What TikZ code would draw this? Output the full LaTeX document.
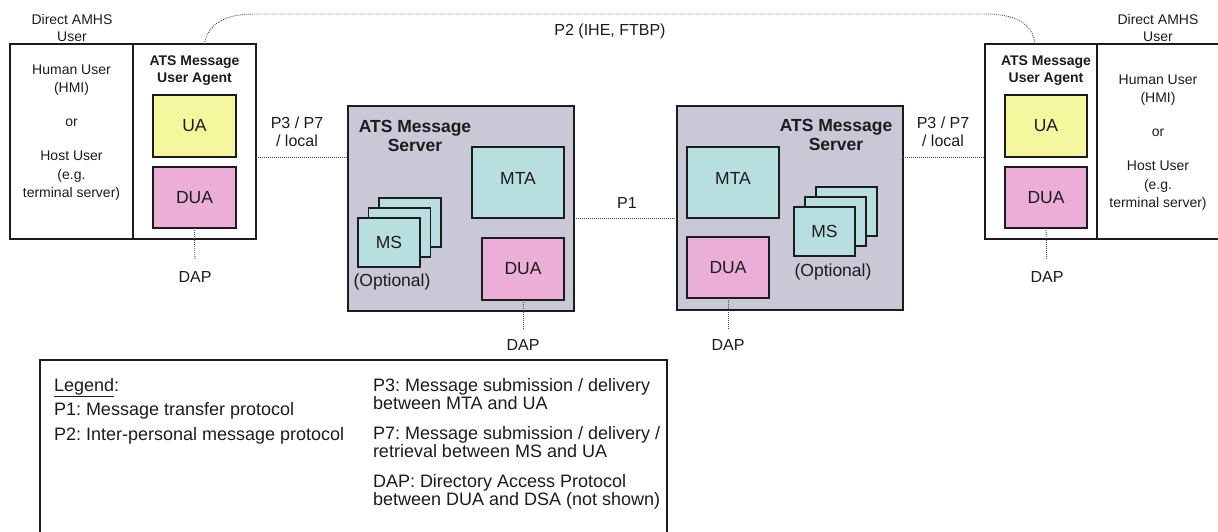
\documentclass[tikz,border=0pt]{standalone}
\usepackage{fontspec}
\setmainfont{Liberation Sans}
\frenchspacing
\definecolor{ink}{HTML}{1C1C1C}
\definecolor{uafill}{HTML}{F5F79E}
\definecolor{duafill}{HTML}{EBAED7}
\definecolor{mtafill}{HTML}{B8DFE0}
\definecolor{srvfill}{HTML}{C8C8D6}
\definecolor{dotcol}{HTML}{4A4A4A}
\tikzset{
  frame/.style={draw=ink, line width=1.4pt, inner sep=0pt, outer sep=0pt, text=ink},
  plainbox/.style={frame, fill=white},
  srvbox/.style={frame, fill=srvfill},
  compbox/.style={frame, font=\fontsize{17.5}{20}\selectfont},
  uabox/.style={compbox, fill=uafill},
  duabox/.style={compbox, fill=duafill},
  mtabox/.style={compbox, fill=mtafill},
  dotlink/.style={draw=dotcol, line width=0.9pt, dash pattern=on 0.9pt off 1.1pt},
  note/.style={inner sep=0pt, outer sep=0pt, text=ink, align=center},
  usertxt/.style={note, font=\fontsize{14}{17}\selectfont},
  protolbl/.style={note, font=\fontsize{16}{18}\selectfont},
  agenttitle/.style={note, font=\fontsize{14}{17}\selectfont\bfseries},
  srvtitle/.style={note, font=\fontsize{17.5}{19}\selectfont\bfseries},
  optlbl/.style={note, font=\fontsize{17.5}{20}\selectfont},
  legtxt/.style={inner sep=0pt, outer sep=0pt, text=ink, align=left, font=\fontsize{18}{18.5}\selectfont},
}
\begin{document}
\begin{tikzpicture}[x=1pt,y=-1pt]
\useasboundingbox (0,0) rectangle (1218,531);
\clip (0,0) rectangle (1218,531);

% ---- left direct AMHS user ----
\node[plainbox, minimum width=123pt, minimum height=195pt] (userL) at (71.5,141.5) {};
\node[plainbox, minimum width=123pt, minimum height=195pt] (agentL) at (194.5,141.5) {};
\node[uabox, minimum width=83pt, minimum height=62pt] (uaL) at (194.5,126) {UA};
\node[duabox, minimum width=83pt, minimum height=61pt] (duaL) at (194.5,197.5) {DUA};
\node[usertxt, anchor=north] (directL) at (72,14) {Direct AMHS\\User};
\node[usertxt, anchor=north, font=\fontsize{14}{18.5}\selectfont] (humanL) at (71.5,64.8)
  {Human User\\(HMI)\\[15.5pt]or\\[15.5pt]Host User\\(e.g.\\terminal server)};
\node[agenttitle, anchor=north] (uatitleL) at (194.5,55.8) {ATS Message\\User Agent};
\node[protolbl] (dapL) at (195,277) {DAP};

% ---- right direct AMHS user ----
\node[plainbox, minimum width=112pt, minimum height=195pt] (agentR) at (1041,141.5) {};
\node[plainbox, minimum width=128pt, minimum height=195pt] (userR) at (1161,141.5) {};
\node[uabox, minimum width=82pt, minimum height=62pt] (uaR) at (1046,126) {UA};
\node[duabox, minimum width=82pt, minimum height=61pt] (duaR) at (1046,197.5) {DUA};
\node[usertxt, anchor=north] (directR) at (1158,14) {Direct AMHS\\User};
\node[usertxt, anchor=north, font=\fontsize{14}{18.5}\selectfont] (humanR) at (1158,74.8)
  {Human User\\(HMI)\\[15.5pt]or\\[15.5pt]Host User\\(e.g.\\terminal server)};
\node[agenttitle, anchor=north] (uatitleR) at (1046,55.8) {ATS Message\\User Agent};
\node[protolbl] (dapR) at (1047,277) {DAP};

% ---- left message server ----
\node[srvbox, minimum width=226pt, minimum height=205pt] (srvL) at (461,208.5) {};
\node[srvtitle, anchor=north] (srvtitleL) at (415,120.5) {ATS Message\\Server};
\node[mtabox, minimum width=92pt, minimum height=71pt, text depth=9pt] (mtaL) at (518,182.5) {MTA};
\node[duabox, minimum width=82pt, minimum height=62pt] (duaSL) at (523,269) {DUA};
\node[mtabox, minimum width=62pt, minimum height=49pt] (msL3) at (410,222.5) {};
\node[mtabox, minimum width=62pt, minimum height=49pt] (msL2) at (399.5,232.5) {};
\node[mtabox, minimum width=62pt, minimum height=49pt] (msL1) at (389,242.5) {MS};
\node[optlbl] (optL) at (392,282) {(Optional)};
\node[protolbl] (dapSL) at (523,345) {DAP};

% ---- right message server ----
\node[srvbox, minimum width=226pt, minimum height=204pt] (srvR) at (790,208) {};
\node[srvtitle, anchor=north] (srvtitleR) at (836,119) {ATS Message\\Server};
\node[mtabox, minimum width=92pt, minimum height=71pt, text depth=9pt] (mtaR) at (733,182.5) {MTA};
\node[duabox, minimum width=82pt, minimum height=61pt] (duaSR) at (728,267.5) {DUA};
\node[mtabox, minimum width=61pt, minimum height=49pt] (msR3) at (846.5,211.5) {};
\node[mtabox, minimum width=61pt, minimum height=49pt] (msR2) at (835.5,221.5) {};
\node[mtabox, minimum width=61pt, minimum height=49pt] (msR1) at (824.5,231.5) {MS};
\node[optlbl] (optR) at (833,272) {(Optional)};
\node[protolbl] (dapSR) at (728,345) {DAP};

% ---- protocol links ----
\draw[dotlink] (agentL.east |- uaL.south) -- (srvL.west |- uaL.south);
\node[protolbl, anchor=north] (p3L) at (297,117) {P3 / P7\\/ local};
\draw[dotlink] (srvL.east |- mtaL.south) -- (srvR.west |- mtaL.south);
\node[protolbl] (p1) at (627,203) {P1};
\draw[dotlink] (srvR.east |- uaR.south) -- (agentR.west |- uaR.south);
\node[protolbl, anchor=north] (p3R) at (943,117) {P3 / P7\\/ local};

\draw[dotlink, shorten >=12pt] (duaL.south) -- (dapL.north);
\draw[dotlink, shorten >=12pt] (duaR.south) -- (dapR.north);
\draw[dotlink, shorten >=10pt] (duaSL.south) -- (dapSL.north);
\draw[dotlink, shorten >=10pt] (duaSR.south) -- (dapSR.north);

\coordinate (p2a) at (255,14);
\coordinate (p2b) at (985,14);
\draw[dotlink] ([xshift=10pt]agentL.north) .. controls (208,24) and (224,14) .. (p2a)
  -- (p2b) .. controls (1016,14) and (1033,24) .. ([xshift=-6pt]agentR.north);
\node[protolbl] (p2) at (610,31) {P2 (IHE, FTBP)};

% ---- legend ----
\node[frame, fill=white, line width=1.2pt, minimum width=627pt, minimum height=180pt, anchor=north west] (legend) at (40,360) {};
\node[legtxt, anchor=north west, font=\fontsize{18}{24.5}\selectfont] (legL) at (54,378)
  {\underline{Legend}:\\P1: Message transfer protocol\\P2: Inter-personal message protocol};
\node[legtxt, anchor=north west] (legR) at (373,378)
  {P3: Message submission / delivery\\between MTA and UA\\[11pt]%
   P7: Message submission / delivery /\\retrieval between MS and UA\\[11pt]%
   DAP: Directory Access Protocol\\between DUA and DSA (not shown)};
\end{tikzpicture}
\end{document}
